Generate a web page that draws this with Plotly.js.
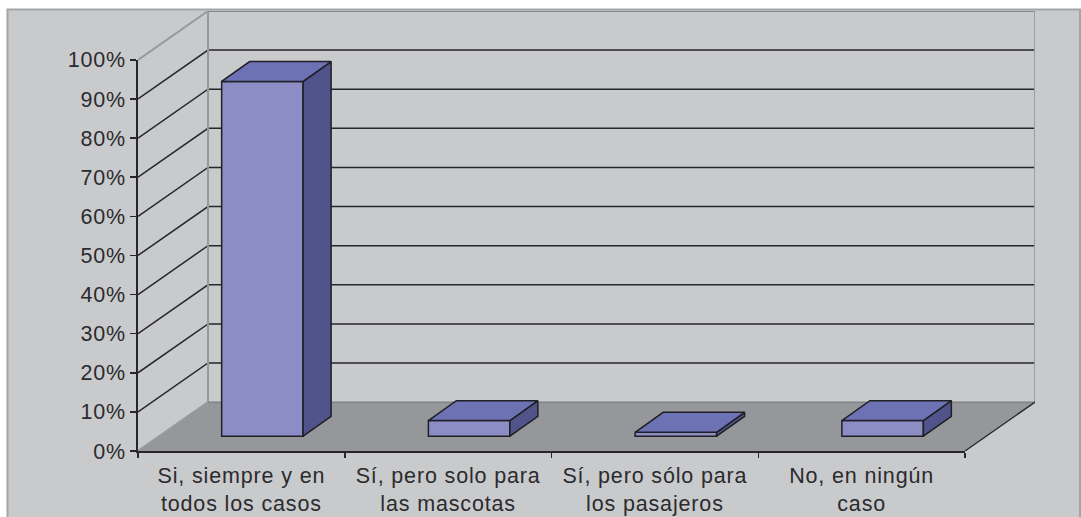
<!DOCTYPE html>
<html><head><meta charset="utf-8">
<script src="https://cdn.plot.ly/plotly-3.0.1.min.js"></script>
<style>html,body{margin:0;padding:0;background:#fff;overflow:hidden}
#c text{letter-spacing:.85px}</style></head>
<body><div id="c" style="width:1081px;height:517px"></div>
<script>
const categories = ["Si, siempre y en<br>todos los casos","Sí, pero solo para<br>las mascotas","Sí, pero sólo para<br>los pasajeros","No, en ningún<br>caso"];
const values = [90.7, 4, 1, 4];
const yTicks = [0,10,20,30,40,50,60,70,80,90,100];

// depth of the 3-D projection in axis units
const wallDX = 0.3386, wallDY = 12.5;
const barDX = 0.1354, barDY = 5.1;
const gapDX = 0.1016, gapDY = 3.78;
const barWidth = 0.394;
const xMin = -0.5, xMax = 3.5;

const bg = '#c9cacc', floorCol = '#96979a', edge = '#98999b', ink = '#1f1f24';
const front = '#8b8dc4', top_ = '#6d72b5', side = '#50548a';
const idx = categories.map((_,i)=>i);

function poly(name, xs, ys, fill, lineCol, w, ax){
  return {type:'scatter', mode:'lines', name, x:xs, y:ys, fill:'toself', fillcolor:fill||'rgba(0,0,0,0)',
    line:{color:lineCol||'rgba(0,0,0,0)', width:w||0, simplify:false}, hoverinfo:'skip', showlegend:false,
    xaxis:ax?'x2':'x', yaxis:ax?'y2':'y'};
}
function line(name, xs, ys, col, w){
  return {type:'scatter', mode:'lines', name, x:xs, y:ys, line:{color:col,width:w,simplify:false},
    connectgaps:false, hoverinfo:'skip', showlegend:false, cliponaxis:false};
}

const traces = [];
// walls and floor live on the wider hidden axes (x, y)
traces.push(poly('floor',[xMin,xMax,xMax+wallDX,xMin+wallDX,xMin],[0,0,wallDY,wallDY,0],floorCol));
const gx=[], gy=[];
yTicks.filter(t=>t>0&&t<100).forEach(t=>{ gx.push(xMin,xMin+wallDX,xMax+wallDX,null); gy.push(t,t+wallDY,t+wallDY,null); });
traces.push(line('grid',gx,gy,'#26262b',1.5));
traces.push(line('leftEdges',[xMin,xMin+wallDX,null,xMin+wallDX,xMin+wallDX,null,xMin,xMin+wallDX],[0,wallDY,null,wallDY,100+wallDY,null,100,100+wallDY],edge,2));
traces.push(line('backBottom',[xMin+wallDX,xMax+wallDX],[wallDY,wallDY],'#7d7e80',1.2));
traces.push(line('backTop',[xMin+wallDX,xMax+wallDX],[100+wallDY,100+wallDY],'#87888c',2.2));
traces.push(line('backRight',[xMax+wallDX,xMax+wallDX],[wallDY,100+wallDY],'#9c9d9f',2));
traces.push(line('floorRight',[xMax,xMax+wallDX],[0,wallDY],'#26262b',1.3));

// bars on the visible axes (x2, y2), drawn over the walls
const bx0 = idx.map(i=>i+gapDX-barWidth/2), bx1 = idx.map(i=>i+gapDX+barWidth/2);
traces.push({type:'bar', name:'front', x:idx.map(i=>i+gapDX), y:values, base:idx.map(()=>gapDY), width:barWidth,
  marker:{color:front,line:{color:ink,width:1.5}}, hoverinfo:'skip', showlegend:false, xaxis:'x2', yaxis:'y2'});
const sx=[],sy=[],tx=[],ty=[];
idx.forEach(i=>{
  const v=values[i], b=gapDY;
  sx.push(bx1[i],bx1[i]+barDX,bx1[i]+barDX,bx1[i],bx1[i],null);
  sy.push(b,b+barDY,b+v+barDY,b+v,b,null);
  tx.push(bx0[i],bx1[i],bx1[i]+barDX,bx0[i]+barDX,bx0[i],null);
  ty.push(b+v,b+v,b+v+barDY,b+v+barDY,b+v,null);
});
traces.push(poly('side',sx,sy,side,ink,1.5,true));
traces.push(poly('top',tx,ty,top_,ink,1.5,true));

const font = {family:'"Liberation Sans", Arial, sans-serif', size:21.5, color:'#2b2b2e'};
const L=138, T=10.5, W=897, H=441, AW=827, AH=392;
const px = x=>(x-L)/W, py = y=>1-(y-T)/H;
const layout = {
  width:1081, height:517, margin:{l:L,r:1081-L-W,t:T,b:517-T-H,pad:0}, autosize:false,
  paper_bgcolor:'#ffffff', plot_bgcolor:'rgba(0,0,0,0)', showlegend:false, hovermode:false, font,
  xaxis:{domain:[0,1], range:[xMin,xMax+wallDX], visible:false, fixedrange:true},
  yaxis:{domain:[0,1], range:[0,100+wallDY], visible:false, fixedrange:true},
  xaxis2:{domain:[0,AW/W], anchor:'y2', type:'linear', range:[xMin,xMax], tickmode:'array', tickvals:idx, ticktext:categories, ticks:'', showgrid:false, zeroline:false,
    showline:true, linecolor:'#26262b', linewidth:1.6, tickfont:font, fixedrange:true, ticklabelstandoff:5,
    minor:{tickmode:'array', tickvals:[-0.5,0.5,1.5,2.5,3.5], ticks:'outside', ticklen:5, tickwidth:1.5, tickcolor:'#26262b', showgrid:false}},
  yaxis2:{domain:[0,AH/H], anchor:'x2', type:'linear', range:[0,100], tickmode:'array', tickvals:yTicks, ticktext:yTicks.map(t=>t+'%'), ticks:'outside', ticklen:6, tickwidth:1.5,
    tickcolor:'#26262b', showgrid:false, zeroline:false, showline:true, linecolor:'#26262b', linewidth:1.6, tickfont:font, fixedrange:true},
  shapes:[{type:'rect', xref:'paper', yref:'paper', layer:'below', x0:px(7.5), x1:px(1080), y0:py(9), y1:py(530),
    fillcolor:bg, line:{color:'#a4a5a8', width:2}}]
};
Plotly.newPlot('c', traces, layout, {displayModeBar:false, staticPlot:true});
</script></body></html>
